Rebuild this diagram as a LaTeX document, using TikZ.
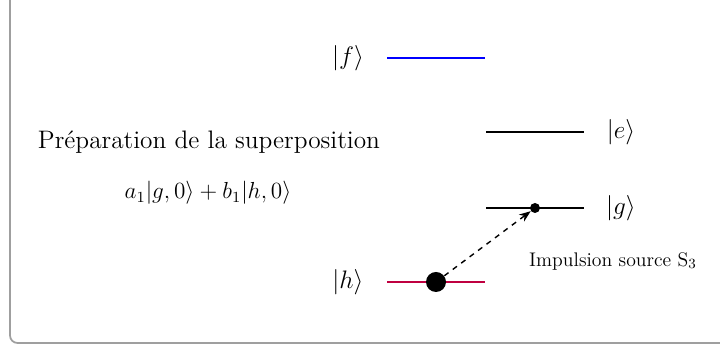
\documentclass[tikz,border=0pt]{standalone}
\usepackage{tikz}
\usetikzlibrary{arrows.meta, calc}

\begin{document}
\begin{tikzpicture}[
    >=Stealth, % Set default arrow tip style
    level/.style={thick}, % Style for energy levels
    ket/.style={font=\Large}, % Style for level labels
    atom/.style={circle, fill=black, inner sep=0pt} % Style for populations
]
    \useasboundingbox (0,0) rectangle (14.4,6.94);

    % Frame (cut at the top and on the right)
    \draw[gray!75, line width=1pt, rounded corners=0.15cm] (0.2,7.3) -- (0.2,0.08) -- (15,0.08);

    % Define level end points
    \coordinate (f1) at (7.74,5.78);
    \coordinate (f2) at (9.70,5.78);
    \coordinate (e1) at (9.72,4.30);
    \coordinate (e2) at (11.68,4.30);
    \coordinate (g1) at (9.72,2.78);
    \coordinate (g2) at (11.68,2.78);
    \coordinate (h1) at (7.74,1.30);
    \coordinate (h2) at (9.70,1.30);

    % Draw levels
    \draw[level, blue] (f1) -- (f2);
    \draw[level] (e1) -- (e2);
    \draw[level] (g1) -- (g2);
    \draw[level, purple] (h1) -- (h2);

    % Level labels
    \node[ket] (fket) at (6.96,5.78) {$|f\rangle$};
    \node[ket] (eket) at (12.42,4.30) {$|e\rangle$};
    \node[ket] (gket) at (12.42,2.78) {$|g\rangle$};
    \node[ket] (hket) at (6.96,1.30) {$|h\rangle$};

    % Populations
    \node[atom, minimum size=0.4cm] (hdot) at ($(h1)!0.5!(h2)$) {};
    \node[atom, minimum size=0.2cm] (gdot) at ($(g1)!0.5!(g2)$) {};

    % Transfer h -> g
    \draw[->, dashed, thick] (hdot) -- (gdot);

    % Texts
    \node[font=\Large] (prep) at (4.18,4.10) {Préparation de la superposition};
    \node[font=\large, scale=1.1, transform shape] (state) at (4.16,3.08) {$a_1|g,0\rangle + b_1|h,0\rangle$};
    \node[font=\fontsize{11.2}{13}\selectfont] (pulse) at (12.26,1.72) {Impulsion source S$_3$};

\end{tikzpicture}
\end{document}
